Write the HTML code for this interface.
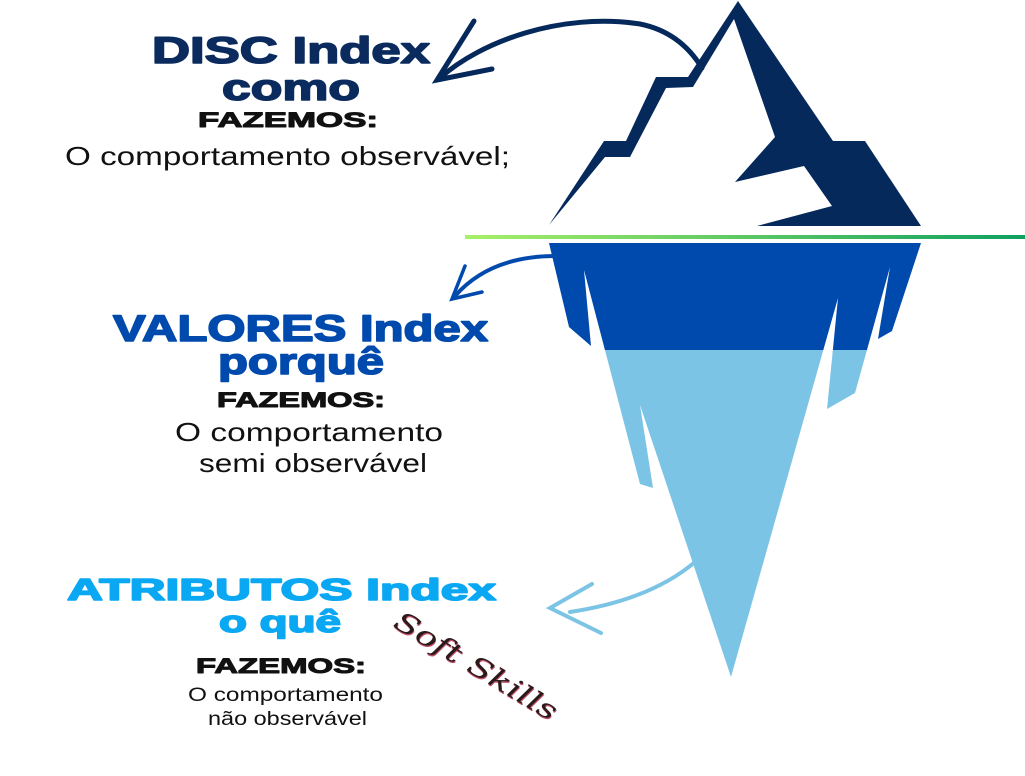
<!DOCTYPE html>
<html><head><meta charset="utf-8"><style>
html,body{margin:0;padding:0;background:#fff;}
svg{display:block;}
.h{font-family:"Liberation Sans",sans-serif;font-weight:bold;stroke-linejoin:round;}
.r{font-family:"Liberation Sans",sans-serif;fill:#111;}
</style></head><body>
<svg width="1025" height="776" viewBox="0 0 1025 776" xmlns="http://www.w3.org/2000/svg">
<defs>
<linearGradient id="gl" x1="465" y1="0" x2="1025" y2="0" gradientUnits="userSpaceOnUse">
<stop offset="0" stop-color="#a8f068"/><stop offset="1" stop-color="#0fa060"/></linearGradient>
<linearGradient id="bg" x1="0" y1="243" x2="0" y2="677" gradientUnits="userSpaceOnUse">
<stop offset="0.2465" stop-color="#004aad"/><stop offset="0.2465" stop-color="#7cc4e6"/></linearGradient>
</defs>
<rect width="1025" height="776" fill="#fff"/>
<polygon fill="#06295c" points="738,1 833,141 865,141 921,226 757,226 832,206 804,166 735,182 775,137 734,19 693,87 666,88 630,157 605,157 549,225 604,141 626,141 656,77 688,77"/>
<rect x="465" y="235" width="560" height="4" fill="url(#gl)"/>
<polygon fill="url(#bg)" points="549,243 921,243 892,331 878,339 890,267 855,393 827,409 838,298 731,677 640,405 653,488 640,484 584,270 591,346 569,327"/>
<g fill="none" stroke-linecap="round">
<path d="M440,78 C480,42 560,12 640,24 Q680,32 702,68" stroke="#06295c" stroke-width="5"/>
<path d="M474,21 L437,80 L492,69" stroke="#06295c" stroke-width="5"/>
<path d="M455,296 Q490,256 556,256" stroke="#004aad" stroke-width="4"/>
<path d="M465,266 L452,299 L482,292" stroke="#004aad" stroke-width="3.5"/>
<path d="M570,612 Q650,600 695,562" stroke="#7cc4e6" stroke-width="4"/>
<path d="M592,584 L550,608 L601,633" stroke="#7cc4e6" stroke-width="4"/>
</g>
<g class="h" fill="#0b2b5e" stroke="#0b2b5e" stroke-width="1.6">
<text x="152" y="63" font-size="37" textLength="278" lengthAdjust="spacingAndGlyphs">DISC Index</text>
<text x="222" y="100" font-size="37" textLength="138" lengthAdjust="spacingAndGlyphs">como</text>
</g>
<g class="h" fill="#111" stroke="#111" stroke-width="1">
<text x="198" y="127" font-size="21" textLength="180" lengthAdjust="spacingAndGlyphs">FAZEMOS:</text>
<text x="217" y="407" font-size="21" textLength="168" lengthAdjust="spacingAndGlyphs">FAZEMOS:</text>
<text x="196" y="673" font-size="21" textLength="170" lengthAdjust="spacingAndGlyphs">FAZEMOS:</text>
</g>
<text class="r" x="65" y="165" font-size="26" textLength="445" lengthAdjust="spacingAndGlyphs">O comportamento observável;</text>
<g class="h" fill="#004aad" stroke="#004aad" stroke-width="1.6">
<text x="113" y="341" font-size="37" textLength="375" lengthAdjust="spacingAndGlyphs">VALORES Index</text>
<text x="218" y="374" font-size="37" textLength="166" lengthAdjust="spacingAndGlyphs">porquê</text>
</g>
<text class="r" x="175" y="441" font-size="26" textLength="268" lengthAdjust="spacingAndGlyphs">O comportamento</text>
<text class="r" x="199" y="472" font-size="26" textLength="228" lengthAdjust="spacingAndGlyphs">semi observável</text>
<g class="h" fill="#0aa7f2" stroke="#0aa7f2" stroke-width="1.6">
<text x="67" y="600" font-size="31" textLength="429" lengthAdjust="spacingAndGlyphs">ATRIBUTOS Index</text>
<text x="219" y="632" font-size="31" textLength="122" lengthAdjust="spacingAndGlyphs">o quê</text>
</g>
<text class="r" x="188" y="701" font-size="19" textLength="195" lengthAdjust="spacingAndGlyphs">O comportamento</text>
<text class="r" x="208" y="725" font-size="19" textLength="159" lengthAdjust="spacingAndGlyphs">não observável</text>
<g transform="translate(392,626) rotate(31)">
<text x="1" y="1" font-family="'DejaVu Serif',cursive" font-style="italic" font-size="27" fill="#c0506a" textLength="185" lengthAdjust="spacingAndGlyphs">Soft Skills</text>
<text x="0" y="0" font-family="'DejaVu Serif',cursive" font-style="italic" font-size="27" fill="#2a1a1a" textLength="185" lengthAdjust="spacingAndGlyphs">Soft Skills</text>
</g>
</svg>
</body></html>
